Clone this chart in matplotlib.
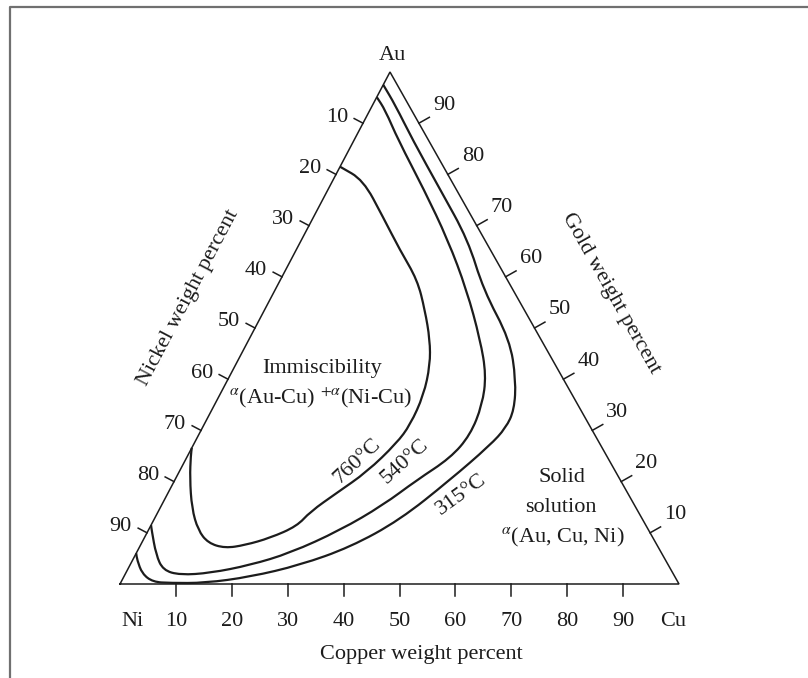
import numpy as np
import matplotlib.pyplot as plt
from matplotlib.path import Path
from matplotlib.patches import PathPatch

plt.rcParams['font.family'] = ['Liberation Serif', 'DejaVu Serif']
plt.rcParams['mathtext.fontset'] = 'stix'

# isotherms of the Au-Cu-Ni miscibility gap, weight percent (Ni is the rest)
cu_760 = [0.0, 5.4, 12.4, 18.6, 24.5, 28.7, 32.4, 34.8, 36.5, 36.9, 36.2, 33.6,
          30.2, 27.2, 26.2, 22.5, 18.7, 15.4, 11.9, 8.9, 5.7, 2.5, 0.5, 0.0]
au_760 = [81.5, 78.9, 71.7, 65.2, 59.4, 53.5, 47.7, 42.8, 36.9, 31.1, 27.5, 21.9,
          17.8, 14.1, 11.3, 9.0, 7.6, 7.0, 8.0, 10.5, 14.8, 20.7, 25.2, 26.6]

cu_540 = [0.0, 2.7, 7.9, 17.2, 26.2, 34.3, 41.4, 45.8, 47.9, 48.6, 47.2, 43.3,
          39.6, 34.3, 27.5, 21.5, 15.1, 9.9, 6.4, 3.7, 0.6, 0.0]
au_540 = [95.1, 92.6, 86.7, 77.0, 67.2, 57.4, 47.7, 40.8, 35.0, 29.1, 24.6, 20.3,
          15.4, 10.5, 6.05, 3.7, 2.15, 1.76, 2.7, 5.7, 10.5, 11.5]

cu_315 = [0.0, 4.0, 10.5, 20.1, 29.8, 37.3, 46.7, 51.6, 54.1, 54.3, 53.1, 49.2,
          44.0, 37.7, 30.4, 22.6, 15.1, 8.9, 5.7, 3.0, 0.8, 0.0]
au_315 = [97.5, 93.6, 86.7, 77.0, 67.2, 57.4, 47.7, 39.8, 34.0, 30.5, 27.1, 20.3,
          12.5, 7.2, 3.7, 1.4, 0.2, 0.2, 0.4, 2.0, 4.7, 6.0]

ticks = [10, 20, 30, 40, 50, 60, 70, 80, 90]

# corners of the triangle in page pixels
NI = np.array([120.0, 584.0])
CU = np.array([679.0, 584.0])
AU = np.array([390.0, 72.0])


def to_xy(cu, au):
    cu = np.asarray(cu, float) / 100
    au = np.asarray(au, float) / 100
    ni = 1 - cu - au
    x = ni * NI[0] + cu * CU[0] + au * AU[0]
    y = ni * NI[1] + cu * CU[1] + au * AU[1]
    return x, y


def smooth_path(x, y):
    # quadratic spline through the midpoints, ends pinned
    p = np.column_stack([x, y])
    mids = (p[:-1] + p[1:]) / 2
    verts = [p[0], mids[0]]
    codes = [Path.MOVETO, Path.LINETO]
    for i in range(1, len(p) - 1):
        verts += [p[i], mids[i]]
        codes += [Path.CURVE3, Path.CURVE3]
    verts.append(p[-1])
    codes.append(Path.LINETO)
    return Path(verts, codes)


ink = '#1c1c1c'
fs = 16

fig = plt.figure(figsize=(8.08, 6.78), dpi=100)
ax = fig.add_axes([0, 0, 1, 1])
ax.set_xlim(0, 808)
ax.set_ylim(678, 0)
ax.axis('off')

# page frame
ax.plot([9.5, 9.5, 808], [678, 6.5, 6.5], color='#707070', lw=1.6)

# triangle
tri = np.array([NI, CU, AU, NI])
ax.plot(tri[:, 0], tri[:, 1], color=ink, lw=1.1, solid_joinstyle='miter')

# isotherms
for cu, au in [(cu_760, au_760), (cu_540, au_540), (cu_315, au_315)]:
    x, y = to_xy(cu, au)
    ax.add_patch(PathPatch(smooth_path(x, y), fill=False, ec=ink, lw=1.6))

# bottom axis: copper
for t in ticks:
    x, y = to_xy(t, 0)
    ax.plot([x, x], [y, y + 12], color=ink, lw=1.1)
    ax.text(x, y + 37, str(t), ha='center', va='center', fontsize=fs, color=ink)
ax.text(NI[0] + 12, NI[1] + 37, 'Ni', ha='center', va='center', fontsize=fs, color=ink)
ax.text(CU[0] - 6, CU[1] + 37, 'Cu', ha='center', va='center', fontsize=fs, color=ink)

# left axis: nickel (Cu = 0)
nl = np.array([-(NI[1] - AU[1]), -(AU[0] - NI[0])])
nl /= np.hypot(*nl)
for t in ticks:
    x, y = to_xy(0, 100 - t)
    ax.plot([x, x + 10 * nl[0]], [y, y + 10 * nl[1]], color=ink, lw=1.1)
    ax.text(x - 15, y - 6, str(t), ha='right', va='center', fontsize=fs, color=ink)

# right axis: gold (Ni = 0)
nr = np.array([CU[1] - AU[1], -(CU[0] - AU[0])])
nr /= np.hypot(*nr)
for t in ticks:
    x, y = to_xy(100 - t, t)
    ax.plot([x, x + 12 * nr[0]], [y, y + 12 * nr[1]], color=ink, lw=1.1)
    ax.text(x + 14, y - 18, str(t), ha='left', va='center', fontsize=fs, color=ink)

ax.text(AU[0] + 2, AU[1] - 16, 'Au', ha='center', va='center', fontsize=fs, color=ink)

ang_l = np.degrees(np.arctan2(NI[1] - AU[1], AU[0] - NI[0]))
ang_r = -np.degrees(np.arctan2(CU[1] - AU[1], CU[0] - AU[0]))
ax.text(188, 298, 'Nickel weight percent', rotation=ang_l, rotation_mode='anchor',
        ha='center', va='center', fontsize=fs, color=ink)
ax.text(611, 293, 'Gold weight percent', rotation=ang_r, rotation_mode='anchor',
        ha='center', va='center', fontsize=fs, color=ink)
ax.text(421, 655, 'Copper weight percent', ha='center', va='center', fontsize=fs, color=ink)

# region labels
ax.text(322, 368, 'Immiscibility', ha='center', va='center', fontsize=fs, color=ink)
ax.text(321, 398, r'$^{\alpha}$(Au-Cu) $^{+\alpha}$(Ni-Cu)', ha='center', va='center',
        fontsize=fs, color=ink)
ax.text(562, 478, 'Solid', ha='center', va='center', fontsize=fs, color=ink)
ax.text(561, 507, 'solution', ha='center', va='center', fontsize=fs, color=ink)
ax.text(563, 537, r'$^{\alpha}$(Au, Cu, Ni)', ha='center', va='center', fontsize=fs, color=ink)

# isotherm labels
ax.text(357, 461, '760°C', rotation=43, rotation_mode='anchor', ha='center', va='center',
        fontsize=fs, color=ink)
ax.text(405, 462, '540°C', rotation=42, rotation_mode='anchor', ha='center', va='center',
        fontsize=fs, color=ink)
ax.text(461, 495, '315°C', rotation=36, rotation_mode='anchor', ha='center', va='center',
        fontsize=fs, color=ink)

fig.savefig('out.png', dpi=100)
